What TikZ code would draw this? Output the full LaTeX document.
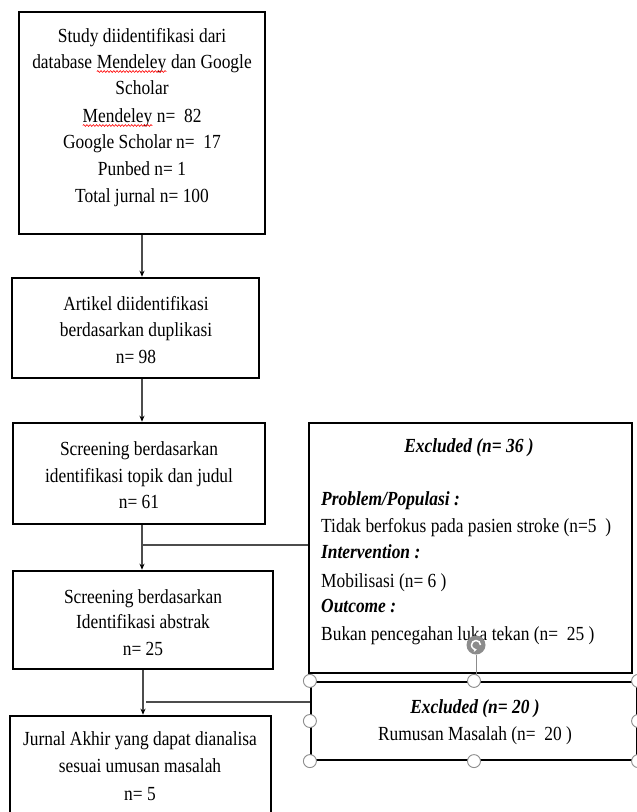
\documentclass[tikz,border=0pt]{standalone}
\usepackage{fontspec}
\setmainfont{Liberation Serif}[FakeStretch=0.87]
\usetikzlibrary{arrows.meta,fit,calc,decorations.pathmorphing}
\newcommand\redwave[1]{\tikz[baseline=(w.base)]{\node[inner sep=0pt,outer sep=0pt] (w) {#1};
  \draw[red, line width=0.6pt, decorate, decoration={snake, amplitude=0.9pt, segment length=3.2pt}] ([yshift=-3.5pt]w.base west) -- ([yshift=-3.5pt]w.base east);}}
\begin{document}
\begin{tikzpicture}[x=1pt,y=-1pt,
  box/.style={draw=black, line width=2.6pt, fill=white, inner sep=0pt},
  txt/.style={inner sep=0pt, anchor=base, font=\fontsize{20}{26}\selectfont},
  ltxt/.style={txt, anchor=base west},
  bi/.style={font=\fontsize{20}{26}\selectfont\bfseries\itshape},
  conn/.style={draw=black!70, line width=1.2pt},
  arr/.style={conn, -{Stealth[length=6pt,width=5pt,black]}},
  handle/.style={circle, draw=black!45, fill=white, line width=0.9pt, minimum size=13pt, inner sep=0pt}]
\useasboundingbox (0,0) rectangle (637,812);
\clip (0,0) rectangle (637,812);
\fill[white] (0,0) rectangle (637,812);

% boxes
\node[box, fit={(19,12) (265,234)}] (b1) {};
\node[box, fit={(12,278) (259,378)}] (b2) {};
\node[box, fit={(13,423) (265,524)}] (b3) {};
\node[box, fit={(309,423) (632,673)}] (b4) {};
\node[box, fit={(13,571) (273,669)}] (b5) {};
\node[box, fit={(10,716) (271,830)}] (b6) {};
\node[box, line width=2.2pt, fit={(311,682) (637,760)}] (b7) {};

% connectors
\draw[arr] (b1.south) -- (b1.south |- b2.north);
\draw[arr] (b1.south |- b2.south) -- (b1.south |- b3.north);
\draw[arr] (b1.south |- b3.south) -- (b1.south |- b5.north);
\coordinate (j1) at (141,545);
\draw[conn] (j1) -- (j1 -| b4.west);
\draw[arr] (b5.south) -- (b5.south |- b6.north);
\coordinate (j2) at (146,702);
\draw[conn] (j2) -- (j2 -| b7.west);

% box 1 text
\node[txt] (t11) at (142,42) {Study diidentifikasi dari};
\node[txt] (t12) at (142,68) {database \redwave{Mendeley} dan Google};
\node[txt] (t13) at (142,94) {Scholar};
\node[txt] (t14) at (142,122) {\redwave{Mendeley} n=\ \ 82};
\node[txt] (t15) at (142,148) {Google Scholar n=\ \ 17};
\node[txt] (t16) at (142,175) {Punbed n= 1};
\node[txt] (t17) at (142,202) {Total jurnal n= 100};

% box 2 text
\node[txt] (t21) at (136,310) {Artikel diidentifikasi};
\node[txt] (t22) at (136,336) {berdasarkan duplikasi};
\node[txt] (t23) at (136,363) {n= 98};

% box 3 text
\node[txt] (t31) at (139,455) {Screening berdasarkan};
\node[txt] (t32) at (139,482) {identifikasi topik dan judul};
\node[txt] (t33) at (139,508) {n= 61};

% box 5 text
\node[txt] (t51) at (143,603) {Screening berdasarkan};
\node[txt] (t52) at (143,628) {Identifikasi abstrak};
\node[txt] (t53) at (143,655) {n= 25};

% box 6 text
\node[txt] (t61) at (140,745) {Jurnal Akhir yang dapat dianalisa};
\node[txt] (t62) at (140,772) {sesuai umusan masalah};
\node[txt] (t63) at (140,800) {n= 5};

% box 4 text
\node[txt, bi] (t41) at (469,452) {Excluded (n= 36 )};
\node[ltxt, bi] (t42) at (321,505) {Problem/Populasi :};
\node[ltxt] (t43) at (321,532) {Tidak berfokus pada pasien stroke (n=5\ \ )};
\node[ltxt, bi] (t44) at (321,558) {Intervention :};
\node[ltxt] (t45) at (321,587) {Mobilisasi (n= 6 )};
\node[ltxt, bi] (t46) at (321,612) {Outcome :};
\node[ltxt] (t47) at (321,640) {Bukan pencegahan luka tekan (n=\ \ 25 )};

% box 7 text
\node[txt, bi] (t71) at (475,713) {Excluded (n= 20 )};
\node[txt] (t72) at (475,740) {Rumusan Masalah (n=\ \ 20 )};

% selection handles
\node[circle, fill=black!45, minimum size=19pt, inner sep=0pt] (rot) at (476,645) {};
\draw[black!45, line width=1pt] (rot.south) -- (rot.south |- b7.north);
\draw[white, line width=1.5pt, -{Stealth[length=3.5pt,width=4pt]}] ($(rot.center)+(4.5,0)$) arc[start angle=0, end angle=280, radius=4.5pt];
\node[handle] (h1) at (b7.north west) {};
\node[handle] (h2) at (b7.north) {};
\node[handle] (h3) at (b7.north east) {};
\node[handle] (h4) at (b7.west) {};
\node[handle] (h5) at (b7.east) {};
\node[handle] (h6) at (b7.south west) {};
\node[handle] (h7) at (b7.south) {};
\node[handle] (h8) at (b7.south east) {};
\end{tikzpicture}
\end{document}
